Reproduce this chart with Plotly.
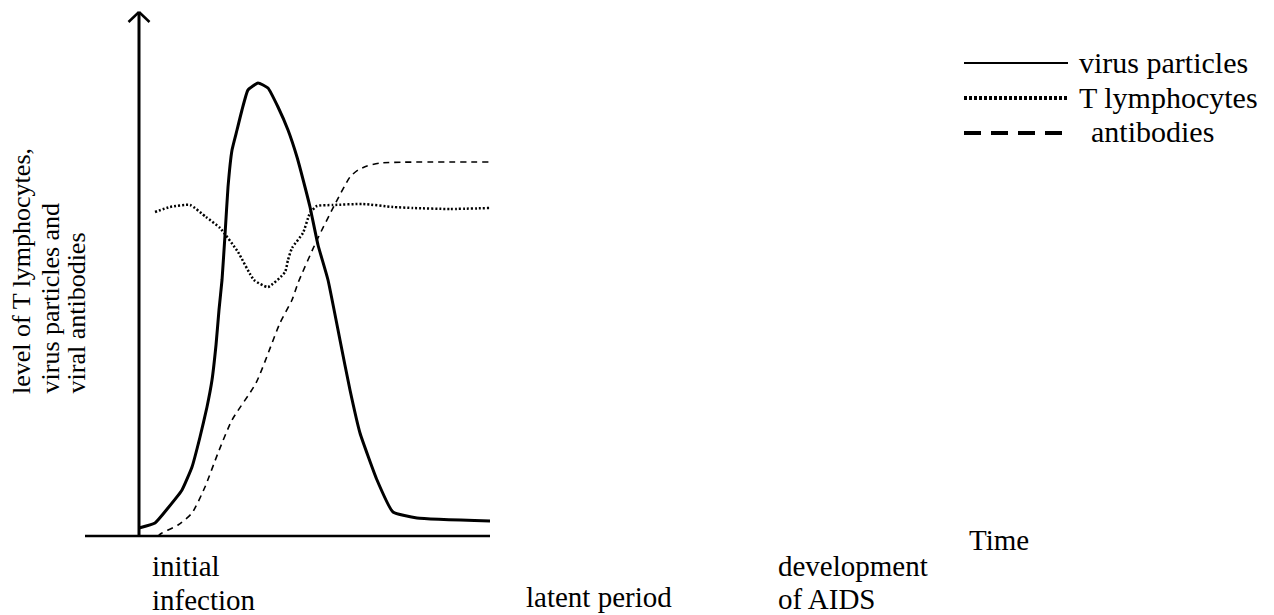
import plotly.graph_objects as go

# ---- data (time in arbitrary units, level in arbitrary units) ----
virus_t = [0, 4.56, 8.26, 12.25, 15.10, 17.38, 19.37, 20.80, 21.94, 22.79, 23.65, 24.50, 25.36,
           26.50, 27.92, 29.34, 31.05, 33.90, 36.75, 39.60, 42.45, 45.01, 47.29, 48.72, 51.00,
           53.85, 57.26, 60.11, 62.96, 67.81, 72.36, 79.20, 100]
virus_level = [1.6, 2.6, 5.6, 9.2, 13.8, 19.8, 25.8, 31.2, 38.2, 45.2, 51.2, 60.2, 69.8,
               77.2, 81.2, 85.2, 89.2, 90.6, 89.6, 85.8, 81.2, 75.8, 69.8, 65.8, 58.2,
               51.2, 39.2, 29.2, 20.6, 11.2, 4.8, 3.6, 3.0]

tcell_t = [4.56, 8.83, 14.53, 19.09, 23.08, 28.21, 32.76, 36.75, 41.60, 42.45, 43.59, 46.72,
           48.72, 50.71, 55.27, 63.82, 72.36, 78.06, 88.60, 100]
tcell_level = [64.8, 65.8, 66.2, 63.8, 61.6, 56.8, 51.2, 49.8, 52.8, 55.2, 57.6, 60.6,
               64.6, 66.0, 66.2, 66.4, 65.8, 65.6, 65.4, 65.6]

antib_t = [5.41, 6.55, 11.11, 15.10, 18.80, 22.51, 26.50, 33.33, 40.17, 43.59, 45.30, 50.71,
           55.56, 60.11, 62.39, 64.96, 68.66, 100]
antib_level = [0, 0.6, 2.2, 4.6, 9.8, 16.6, 23.2, 30.6, 42.6, 47.2, 50.6, 59.2,
               66.0, 71.8, 73.2, 74.0, 74.6, 74.8]

series_names = ["virus particles", "T lymphocytes", "antibodies"]
y_title_lines = ["level of T lymphocytes,", "virus particles and", "viral antibodies"]
x_labels = [["initial", "infection"], ["latent period"], ["development", "of AIDS"]]
x_title = "Time"

# ---- figure ----
W, H = 1274, 615
FONT = "Liberation Serif"

fig = go.Figure()
fig.add_trace(go.Scatter(x=virus_t, y=virus_level, mode="lines", name=series_names[0],
                         line=dict(color="black", width=3, shape="spline", smoothing=0.4),
                         showlegend=False))
fig.add_trace(go.Scatter(x=tcell_t, y=tcell_level, mode="lines", name=series_names[1],
                         line=dict(color="black", width=2.5, dash="2px,2px", shape="spline", smoothing=0.5),
                         showlegend=False))
fig.add_trace(go.Scatter(x=antib_t, y=antib_level, mode="lines", name=series_names[2],
                         line=dict(color="black", width=1.6, dash="6px,5px", shape="spline", smoothing=0.6),
                         showlegend=False))

# axis scales: x=0 at pixel 139, x=100 at pixel 490; y=0 at pixel 536, 5 px per unit
px_per_x = (490 - 139) / 100.0
px_per_y = 5.0
x_range = [-139 / px_per_x, (W - 139) / px_per_x]
y_range = [-(H - 536) / px_per_y, 536 / px_per_y]

def px(xp):
    return xp / W

def py(yp):
    return 1 - yp / H

shapes = []
# x axis line
shapes.append(dict(type="line", xref="x", yref="y", x0=-54 / px_per_x, x1=100, y0=0, y1=0,
                   line=dict(color="black", width=2.5)))
# y axis with open arrow head
y_top = (536 - 12) / px_per_y
shapes.append(dict(type="line", xref="x", yref="y", x0=0, x1=0, y0=0, y1=y_top,
                   line=dict(color="black", width=3)))
shapes.append(dict(type="line", xref="x", yref="y", x0=-10.5 / px_per_x, x1=0,
                   y0=y_top - 10 / px_per_y, y1=y_top, line=dict(color="black", width=2.5)))
shapes.append(dict(type="line", xref="x", yref="y", x0=10.5 / px_per_x, x1=0,
                   y0=y_top - 10 / px_per_y, y1=y_top, line=dict(color="black", width=2.5)))

# manual legend
leg_rows = [63, 98, 133]
leg_styles = [dict(width=2, dash="solid"), dict(width=4, dash="3px,2px"), dict(width=4, dash="17px,10px")]
for ry, st in zip(leg_rows, leg_styles):
    shapes.append(dict(type="line", xref="paper", yref="paper", x0=px(964), x1=px(1068),
                       y0=py(ry), y1=py(ry), line=dict(color="black", **st)))

annotations = []
leg_text_x = [1077, 1077, 1089]
for name, ry, tx in zip(series_names, leg_rows, leg_text_x):
    annotations.append(dict(text=name, xref="paper", yref="paper", x=px(tx), y=py(ry - 1),
                            xanchor="left", yanchor="middle", showarrow=False,
                            font=dict(family=FONT, size=30, color="black")))

# y-axis title (rotated lines)
for line, cx in zip(y_title_lines, [21, 50, 76]):
    annotations.append(dict(text=line, xref="paper", yref="paper", x=px(cx), y=py(396),
                            xanchor="center", yanchor="bottom", textangle=-90, showarrow=False,
                            font=dict(family=FONT, size=26, color="black")))

# x labels
label_pos = [(150, [566, 600]), (524, [597]), (776, [566, 599])]
for lines, (lx, ys) in zip(x_labels, label_pos):
    for t, ly in zip(lines, ys):
        annotations.append(dict(text=t, xref="paper", yref="paper", x=px(lx), y=py(ly),
                                xanchor="left", yanchor="middle", showarrow=False,
                                font=dict(family=FONT, size=29, color="black")))

annotations.append(dict(text=x_title, xref="paper", yref="paper", x=px(967), y=py(540),
                        xanchor="left", yanchor="middle", showarrow=False,
                        font=dict(family=FONT, size=29, color="black")))

fig.update_layout(
    width=W, height=H,
    margin=dict(l=0, r=0, t=0, b=0),
    paper_bgcolor="white", plot_bgcolor="white",
    xaxis=dict(range=x_range, visible=False, fixedrange=True),
    yaxis=dict(range=y_range, visible=False, fixedrange=True),
    shapes=shapes, annotations=annotations, showlegend=False,
)

fig.write_html("out.html", config={"displayModeBar": False},
               post_script="document.body.style.margin='0';document.body.style.padding='0';document.body.style.overflow='hidden';")
